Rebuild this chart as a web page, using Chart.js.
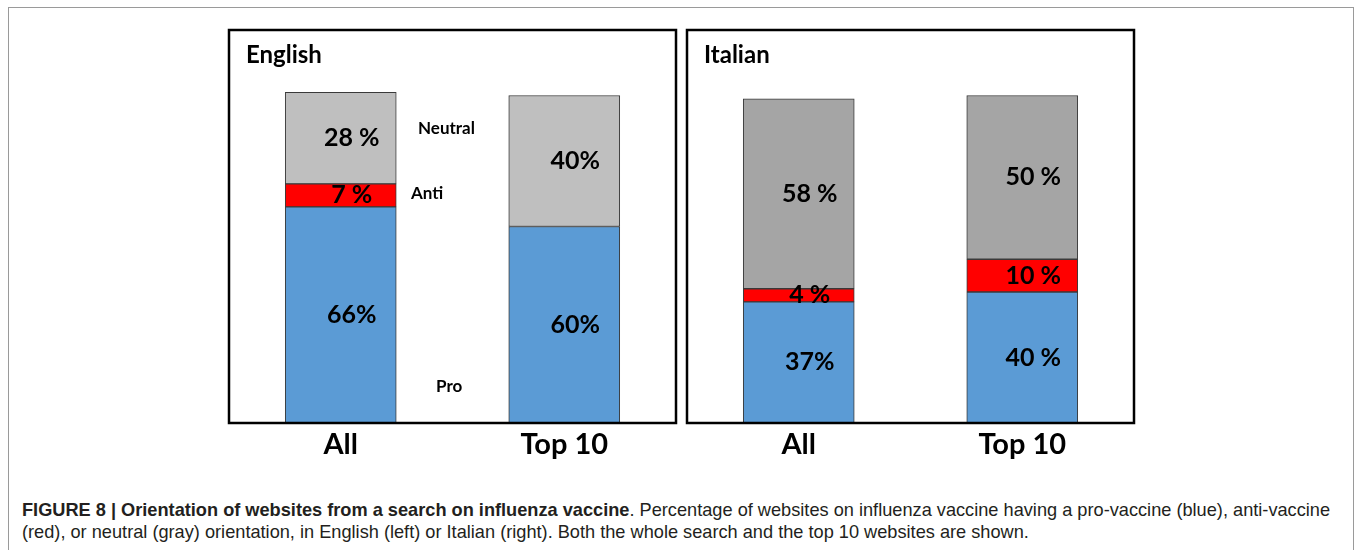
<!DOCTYPE html>
<html>
<head>
<meta charset="utf-8">
<title>Orientation of websites</title>
<script src="https://cdn.jsdelivr.net/npm/chart.js@4.4.1/dist/chart.umd.min.js"></script>
<style>
  html, body { margin: 0; padding: 0; background: #fff; }
  body { width: 1356px; height: 550px; position: relative; overflow: hidden; }
  #frame { position: absolute; left: 8px; top: 7px; width: 1344px; height: 600px; border: 1px solid #9a9a9a; }
  .panel { position: absolute; top: 20px; }
  #caption {
    position: absolute; left: 22px; top: 499px; width: 1330px;
    font-family: "Liberation Sans", Arial, sans-serif; font-size: 18.2px; line-height: 22px;
    color: #231f20; white-space: nowrap;
  }
  #caption b { font-weight: bold; }
</style>
</head>
<body>
<div id="frame"></div>
<canvas id="english" class="panel" width="467" height="450" style="left:219px"></canvas>
<canvas id="italian" class="panel" width="467" height="450" style="left:677px"></canvas>
<div id="caption"><b>FIGURE 8 | Orientation of websites from a search on influenza vaccine</b>. Percentage of websites on influenza vaccine having a pro-vaccine (blue), anti-vaccine<br>(red), or neutral (gray) orientation, in English (left) or Italian (right). Both the whole search and the top 10 websites are shown.</div>
<script>
// 数据
const categories = ['All', 'Top 10'];
const seriesNames = ['Pro', 'Anti', 'Neutral'];

const englishPro = [66, 60];
const englishAnti = [7, 0];
const englishNeutral = [28, 40];
const italianPro = [37, 40];
const italianAnti = [4, 10];
const italianNeutral = [58, 50];

// 柱内标签文字
const englishProText = ['66%', '60%'];
const englishAntiText = ['7 %', ''];
const englishNeutralText = ['28 %', '40%'];
const italianProText = ['37%', '40 %'];
const italianAntiText = ['4 %', '10 %'];
const italianNeutralText = ['58 %', '50 %'];

const FONT = 'Lato, "Open Sans", sans-serif';
const BLUE = '#5B9BD5';
const RED = '#FF0000';

// 面板边框、标题、数值标签
const panelPlugin = {
    id: 'panelDecor',
    afterDatasetsDraw(chart, args, opts) {
        const ctx = chart.ctx;
        ctx.save();
        ctx.fillStyle = '#000';
        ctx.textAlign = 'center';
        ctx.textBaseline = 'middle';
        ctx.font = 'bold 25px ' + FONT;
        chart.data.datasets.forEach((ds, i) => {
            const meta = chart.getDatasetMeta(i);
            meta.data.forEach((el, j) => {
                const txt = ds.valueText[j];
                if (!txt) return;
                ctx.fillText(txt, el.x + 11, (el.y + el.base) / 2);
            });
        });
        ctx.restore();
    },
    afterDraw(chart, args, opts) {
        const ctx = chart.ctx;
        const a = chart.chartArea;
        ctx.save();
        ctx.strokeStyle = '#000';
        ctx.lineWidth = 2.5;
        ctx.strokeRect(a.left, a.top, a.right - a.left, a.bottom - a.top);

        ctx.fillStyle = '#000';
        ctx.textBaseline = 'middle';
        ctx.textAlign = 'left';
        ctx.font = 'bold 24px ' + FONT;
        ctx.fillText(opts.title, a.left + 17, a.top + 25);

        // 系列说明文字
        ctx.font = 'bold 17px ' + FONT;
        (opts.notes || []).forEach((n) => {
            const y = chart.scales.y.getPixelForValue(n.at);
            ctx.fillText(seriesNames[n.series], a.left + n.dx, y);
        });
        ctx.restore();
    }
};

function makePanel(id, title, pro, anti, neutral, texts, gray, notes) {
    const ctx = document.getElementById(id);
    const values = [pro, anti, neutral];
    const colors = [BLUE, RED, gray];
    return new Chart(ctx, {
        type: 'bar',
        data: {
            labels: categories,
            datasets: values.map((v, i) => ({
                label: seriesNames[i],
                data: v,
                valueText: texts[i],
                backgroundColor: colors[i],
                borderColor: '#3a3a3a',
                borderWidth: 1,
                borderSkipped: false,
                barThickness: 111
            }))
        },
        options: {
            responsive: false,
            animation: false,
            layout: { padding: { left: 10, right: 10, top: 10, bottom: 7 } },
            plugins: {
                legend: { display: false },
                tooltip: { enabled: false },
                panelDecor: { title: title, notes: notes }
            },
            scales: {
                x: {
                    stacked: true,
                    grid: { display: false, drawTicks: false },
                    border: { display: false },
                    ticks: {
                        color: '#000',
                        padding: 4,
                        font: { family: FONT, size: 29, weight: 'bold' }
                    },
                    afterFit(scale) { scale.height = 40; }
                },
                y: {
                    stacked: true,
                    display: false,
                    min: 0,
                    max: 120
                }
            }
        },
        plugins: [panelPlugin]
    });
}

makePanel('english', 'English', englishPro, englishAnti, englishNeutral,
    [englishProText, englishAntiText, englishNeutralText], '#BFBFBF',
    [{ series: 2, at: 90, dx: 189 }, { series: 1, at: 70, dx: 182 }, { series: 0, at: 11, dx: 207 }]);

makePanel('italian', 'Italian', italianPro, italianAnti, italianNeutral,
    [italianProText, italianAntiText, italianNeutralText], '#A5A5A5', []);
</script>
</body>
</html>
